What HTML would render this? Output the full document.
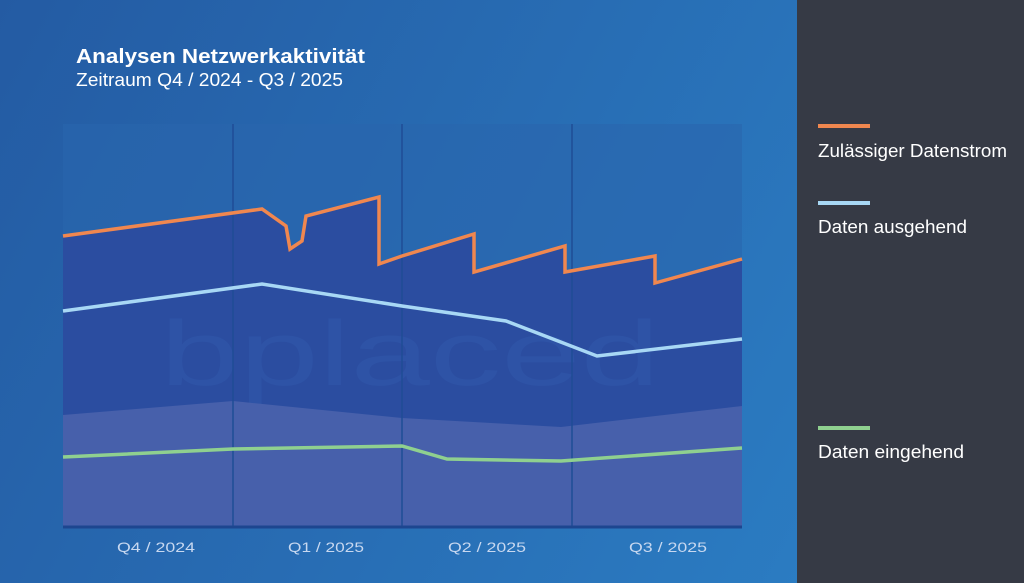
<!DOCTYPE html>
<html><head><style>
body{margin:0;width:1024px;height:583px;overflow:hidden;font-family:"Liberation Sans",sans-serif;}
</style></head><body>
<svg width="1024" height="583" xmlns="http://www.w3.org/2000/svg">
<defs>
<linearGradient id="bg" x1="0" y1="0" x2="1" y2="0.3">
<stop offset="0" stop-color="#245ba3"/><stop offset="1" stop-color="#2b7cc2"/>
</linearGradient>
</defs>
<rect width="1024" height="583" fill="url(#bg)"/>
<rect x="797" y="0" width="227" height="583" fill="#363a45"/>
<rect x="63" y="124" width="679" height="402" fill="#2a66ad" opacity="0.6"/>
<polygon fill="#2b4da0" points="63,236 262,209 286,226 290,249 302,241 306,216 379,197 379,264 402,256 474,234 474,272 565,246 565,272 655,256 655,283 742,259 742,526 63,526"/>
<text x="160" y="385" font-size="92" fill="#2f55a8" font-family="Liberation Sans" textLength="500" lengthAdjust="spacingAndGlyphs" opacity="0.8">bplaced</text>
<polygon fill="#4760ab" points="63,415 233,401 402,418 561,427 742,406 742,526 63,526"/>
<g stroke="#1f4d96" stroke-width="1.5">
<line x1="233" y1="124" x2="233" y2="526"/><line x1="402" y1="124" x2="402" y2="526"/><line x1="572" y1="124" x2="572" y2="526"/>
</g>
<line x1="63" y1="527" x2="742" y2="527" stroke="#1d4690" stroke-width="3"/>
<polyline fill="none" stroke="#f0874f" stroke-width="3.5" stroke-linejoin="miter" points="63,236 262,209 286,226 290,249 302,241 306,216 379,197 379,264 402,256 474,234 474,272 565,246 565,272 655,256 655,283 742,259"/>
<polyline fill="none" stroke="#a8d8f5" stroke-width="3.5" points="63,311 262,284 402,306 506,321 597,356 742,339"/>
<polyline fill="none" stroke="#8fd08f" stroke-width="3.5" points="63,457 233,449 402,446 447,459 561,461 742,448"/>
<g fill="#c8d8f0" font-size="14">
<text x="117" y="552" textLength="78" lengthAdjust="spacingAndGlyphs">Q4 / 2024</text>
<text x="288" y="552" textLength="76" lengthAdjust="spacingAndGlyphs">Q1 / 2025</text>
<text x="448" y="552" textLength="78" lengthAdjust="spacingAndGlyphs">Q2 / 2025</text>
<text x="629" y="552" textLength="78" lengthAdjust="spacingAndGlyphs">Q3 / 2025</text>
</g>
<text x="76" y="63" fill="#fff" font-size="20" font-weight="bold" textLength="289" lengthAdjust="spacingAndGlyphs">Analysen Netzwerkaktivität</text>
<text x="76" y="86" fill="#fff" font-size="18" textLength="267" lengthAdjust="spacingAndGlyphs">Zeitraum Q4 / 2024 - Q3 / 2025</text>
<line x1="818" y1="126" x2="870" y2="126" stroke="#f0874f" stroke-width="4"/>
<text x="818" y="157" fill="#fff" font-size="18" textLength="189" lengthAdjust="spacingAndGlyphs">Zulässiger Datenstrom</text>
<line x1="818" y1="203" x2="870" y2="203" stroke="#a8d8f5" stroke-width="4"/>
<text x="818" y="233" fill="#fff" font-size="18" textLength="149" lengthAdjust="spacingAndGlyphs">Daten ausgehend</text>
<line x1="818" y1="428" x2="870" y2="428" stroke="#8fd08f" stroke-width="4"/>
<text x="818" y="458" fill="#fff" font-size="18" textLength="146" lengthAdjust="spacingAndGlyphs">Daten eingehend</text>
</svg>
</body></html>
